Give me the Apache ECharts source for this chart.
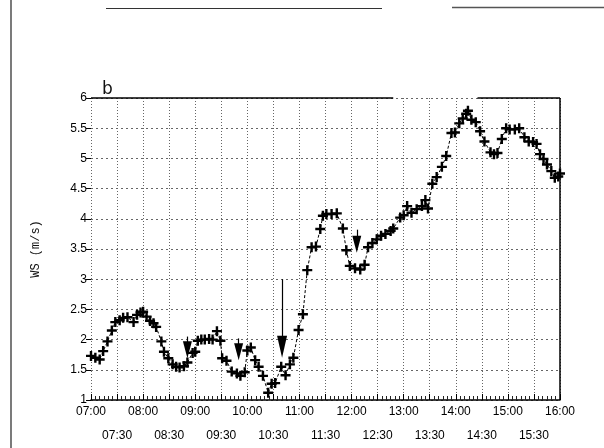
<!DOCTYPE html>
<html>
<head>
<meta charset="utf-8">
<script src="https://cdn.jsdelivr.net/npm/echarts@6/dist/echarts.min.js"></script>
<style>
  html, body { margin: 0; padding: 0; background: #fff; }
  #chart { width: 604px; height: 448px; }
</style>
</head>
<body>
<div id="chart"></div>
<script>
// Wind speed record, 07:00 - 16:00
const times = [
  '07:00','07:05','07:10','07:14','07:19','07:24','07:28','07:33','07:37','07:42',
  '07:49','07:53','07:57','08:00','08:04','08:08','08:12','08:15','08:21','08:24',
  '08:29','08:34','08:38','08:42','08:47','08:51','08:57','09:00','09:03','09:07',
  '09:11','09:16','09:20','09:25','09:29','09:31','09:36','09:42','09:48','09:52',
  '09:57','10:00','10:04','10:09','10:13','10:18','10:24','10:28','10:32','10:39',
  '10:44','10:49','10:53','10:59','11:04','11:09','11:14','11:19','11:24','11:27',
  '11:31','11:37','11:43','11:50','11:54','11:58','12:04','12:10','12:15','12:19',
  '12:24','12:29','12:34','12:39','12:45','12:48','12:56','13:00','13:04','13:09',
  '13:15','13:21','13:25','13:28','13:33','13:38','13:44','13:49','13:55','13:59',
  '14:04','14:08','14:12','14:14','14:18','14:23','14:28','14:33','14:40','14:44',
  '14:48','14:53','14:58','15:02','15:08','15:13','15:19','15:24','15:29','15:33',
  '15:37','15:41','15:45','15:50','15:54','15:58','16:00'
];
const ws = [
  1.73,1.70,1.67,1.81,1.97,2.15,2.29,2.32,2.36,2.37,
  2.29,2.41,2.45,2.46,2.38,2.31,2.27,2.21,1.97,1.80,
  1.69,1.59,1.55,1.54,1.56,1.62,1.78,1.80,1.98,2.00,
  2.00,2.01,2.00,2.14,1.98,1.69,1.65,1.47,1.44,1.40,
  1.46,1.82,1.87,1.66,1.55,1.40,1.12,1.27,1.28,1.55,
  1.41,1.59,1.70,2.16,2.42,3.15,3.53,3.54,3.83,4.05,
  4.08,4.08,4.09,3.84,3.48,3.22,3.18,3.16,3.24,3.53,
  3.60,3.66,3.72,3.75,3.80,3.84,4.02,4.06,4.21,4.10,
  4.16,4.21,4.31,4.17,4.58,4.69,4.86,5.04,5.42,5.43,
  5.58,5.66,5.74,5.79,5.64,5.60,5.45,5.28,5.10,5.07,
  5.09,5.32,5.50,5.48,5.48,5.50,5.35,5.28,5.27,5.24,
  5.07,4.99,4.90,4.79,4.68,4.70,4.75
];
// Event arrows: time, start value, head value
const arrowTimes = ['08:51', '09:50', '10:40', '12:06'];
const arrowTops = [2.05, 2.02, 3.00, 3.82];
const arrowHeads = [1.83, 1.80, 1.88, 3.58];
// Solid frame pieces along the top edge
const topEdgeStart = ['07:00', '14:25'];
const topEdgeEnd = ['12:48', '16:00'];

const yMin = 1, yMax = 6, yStep = 0.5;
const tMin = '07:00', tMax = '16:00', tStep = 30;

function toMin(s) {
  const p = s.split(':');
  return (+p[0]) * 60 + (+p[1]);
}
function pad(n) { return (n < 10 ? '0' : '') + n; }
function fmtTime(v) { return pad(Math.floor(v / 60)) + ':' + pad(v % 60); }

const seriesData = times.map((t, i) => [toMin(t), ws[i]]);

const arrowLines = arrowTimes.map((t, i) => [
  { coord: [toMin(t), arrowTops[i]], symbol: 'none' },
  { coord: [toMin(t), arrowHeads[i]], symbol: 'triangle', symbolSize: i === 2 ? [10, 22] : [9, 17] }
]);

const edgeLines = topEdgeStart.map((t, i) => [
  { coord: [toMin(t), yMax] },
  { coord: [toMin(topEdgeEnd[i]), yMax] }
]);

const plusPath = 'path://M3.8,0H6.2V3.8H10V6.2H6.2V10H3.8V6.2H0V3.8H3.8Z';

const labelFont = { fontFamily: 'Liberation Sans', fontSize: 12, color: '#000' };

const chart = echarts.init(document.getElementById('chart'), null, { renderer: 'canvas' });

chart.setOption({
  animation: false,
  backgroundColor: '#fff',
  title: {
    text: 'b',
    left: 97,
    top: 76,
    textStyle: { fontFamily: 'DejaVu Sans', fontSize: 17, fontWeight: 'normal', color: '#111' }
  },
  grid: { left: 91, right: 44, top: 98, bottom: 48, containLabel: false },
  xAxis: [
    {
      // hour row, grid and ticks
      type: 'value',
      min: toMin(tMin),
      max: toMin(tMax),
      interval: tStep,
      axisLine: { show: true, onZero: false, lineStyle: { color: '#000', width: 1.5 } },
      axisTick: { show: true, inside: true, length: 6, lineStyle: { color: '#000' } },
      minorTick: { show: true, splitNumber: 6, length: 4, lineStyle: { color: '#222' } },
      axisLabel: Object.assign({
        interval: 0,
        showMinLabel: true,
        showMaxLabel: true,
        hideOverlap: false,
        margin: 6,
        formatter: function (v) { return v % 60 === 0 ? fmtTime(v) : ''; }
      }, labelFont),
      splitLine: { show: true, lineStyle: { color: '#666', width: 1, type: [1, 2] } }
    },
    {
      // half-hour row
      type: 'value',
      position: 'bottom',
      offset: 24,
      min: toMin(tMin),
      max: toMin(tMax),
      interval: tStep,
      axisLine: { show: false },
      axisTick: { show: false },
      splitLine: { show: false },
      axisLabel: Object.assign({
        interval: 0,
        hideOverlap: false,
        margin: 6,
        formatter: function (v) { return v % 60 === 30 ? fmtTime(v) : ''; }
      }, labelFont)
    }
  ],
  yAxis: {
    type: 'value',
    min: yMin,
    max: yMax,
    interval: yStep,
    name: 'WS (m/s)',
    nameLocation: 'middle',
    nameGap: 49,
    nameRotate: 90,
    nameTextStyle: { fontFamily: 'Liberation Mono', fontSize: 12, color: '#111' },
    axisLine: { show: false },
    axisTick: { show: true, length: 5, lineStyle: { color: '#000' } },
    axisLabel: Object.assign({
      margin: 4,
      showMinLabel: true,
      showMaxLabel: true,
      formatter: function (v) { return String(v); }
    }, labelFont),
    splitLine: { show: true, lineStyle: { color: '#666', width: 1, type: [2, 3] } }
  },
  series: [
    {
      type: 'line',
      data: seriesData,
      symbol: plusPath,
      symbolSize: 10,
      showAllSymbol: true,
      itemStyle: { color: '#000' },
      lineStyle: { color: '#000', width: 1, type: [3, 2] },
      z: 5,
      markLine: {
        silent: true,
        animation: false,
        label: { show: false },
        lineStyle: { color: '#000', width: 1.2, type: 'solid' },
        data: arrowLines
      }
    },
    {
      type: 'line',
      data: [],
      silent: true,
      markLine: {
        silent: true,
        animation: false,
        symbol: ['none', 'none'],
        label: { show: false },
        lineStyle: { color: '#000', width: 1.5, type: 'solid' },
        data: edgeLines.concat([[
          { coord: [toMin(tMax), yMin] },
          { coord: [toMin(tMax), yMax] }
        ]])
      }
    }
  ],
  graphic: [
    { type: 'line', shape: { x1: 11, y1: 0, x2: 11, y2: 448 }, style: { stroke: '#222', lineWidth: 1.2 } },
    { type: 'line', shape: { x1: 106, y1: 8.5, x2: 382, y2: 8.5 }, style: { stroke: '#333', lineWidth: 1.2 } },
    { type: 'line', shape: { x1: 452, y1: 7.5, x2: 604, y2: 7.5 }, style: { stroke: '#555', lineWidth: 1.5 } }
  ]
});
</script>
</body>
</html>
